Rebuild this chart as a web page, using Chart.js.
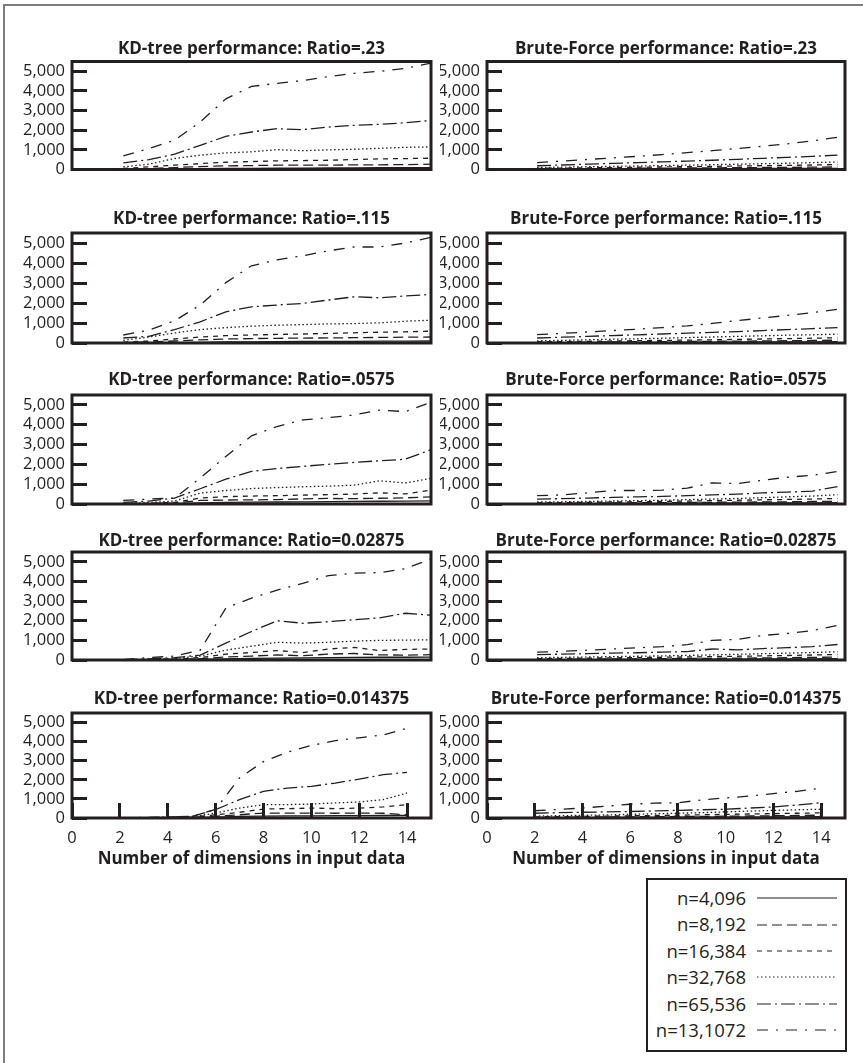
<!DOCTYPE html>
<html>
<head>
<meta charset="utf-8">
<script src="https://cdn.jsdelivr.net/npm/chart.js@4.4.1/dist/chart.umd.min.js"></script>
<style>
  html, body { margin: 0; padding: 0; background: #fff; }
  body { width: 863px; height: 1063px; position: relative; overflow: hidden; font-family: 'Open Sans', sans-serif; color: #231f20; }
  .sheet { position: absolute; left: 3px; top: 4px; right: -10px; bottom: -10px; border-top: 2px solid #7d7d7d; border-left: 2px solid #7d7d7d; }
  canvas { position: absolute; }
  #legend { position: absolute; left: 646px; top: 878px; width: 197px; height: 165px; border: 2px solid #231f20; padding-top: 5px; box-sizing: content-box; }
  .lrow { height: 26.4px; display: flex; align-items: center; }
  .ltxt { width: 98px; text-align: right; font-size: 18.5px; line-height: 1; }
  .lrow svg { margin-left: 11px; }
</style>
</head>
<body>
<div class="sheet"></div>
<div id="legend"></div>
<script>
// Dimensions tested (x values shared by every panel)
const dims = [2, 3, 4, 5, 6, 7, 8, 9, 10, 11, 12, 13, 14];
const yTicks = [0, 1000, 2000, 3000, 4000, 5000];
const xTicks = [0, 2, 4, 6, 8, 10, 12, 14];
const ratios = ['.23', '.115', '.0575', '0.02875', '0.014375'];
const seriesLabels = ['n=4,096', 'n=8,192', 'n=16,384', 'n=32,768', 'n=65,536', 'n=13,1072'];

// One array per panel, rows in the order of seriesLabels
const kd023 = [
  [5, 10, 20, 40, 50, 60, 70, 75, 80, 85, 90, 95, 100],
  [20, 50, 100, 150, 185, 200, 220, 220, 220, 236, 236, 250, 270],
  [50, 135, 220, 300, 370, 405, 440, 456, 470, 507, 540, 557, 575],
  [135, 270, 560, 730, 845, 900, 1010, 960, 1000, 1030, 1080, 1130, 1150],
  [340, 500, 780, 1230, 1690, 1910, 2080, 2030, 2160, 2250, 2300, 2380, 2500],
  [690, 1070, 1490, 2420, 3600, 4230, 4390, 4530, 4730, 4900, 5000, 5150, 5420]
];
const bf023 = [
  [15, 18, 22, 26, 30, 34, 38, 42, 46, 50, 54, 58, 62],
  [30, 38, 46, 54, 62, 70, 78, 86, 94, 102, 110, 120, 130],
  [60, 70, 85, 100, 115, 130, 145, 160, 180, 195, 210, 230, 250],
  [100, 120, 140, 160, 180, 200, 220, 245, 270, 295, 320, 350, 380],
  [190, 230, 270, 310, 350, 390, 430, 470, 520, 570, 620, 670, 730],
  [355, 430, 510, 590, 670, 760, 860, 960, 1070, 1180, 1310, 1460, 1640]
];
const kd0115 = [
  [5, 10, 20, 35, 50, 60, 70, 75, 80, 85, 90, 95, 100],
  [20, 50, 100, 160, 200, 220, 235, 245, 255, 265, 280, 290, 300],
  [40, 100, 200, 300, 370, 400, 430, 450, 480, 510, 540, 560, 590],
  [130, 300, 500, 670, 770, 840, 890, 920, 955, 970, 1010, 1090, 1140],
  [250, 335, 670, 1060, 1560, 1810, 1900, 1980, 2150, 2310, 2260, 2350, 2430],
  [400, 640, 1110, 1900, 3020, 3860, 4160, 4360, 4610, 4800, 4800, 5000, 5280]
];
const bf0115 = [
  [15, 18, 22, 26, 30, 34, 38, 42, 46, 50, 54, 58, 62],
  [30, 38, 46, 54, 62, 70, 78, 86, 94, 102, 112, 125, 140],
  [60, 70, 85, 100, 115, 130, 145, 160, 180, 200, 220, 240, 260],
  [110, 130, 160, 190, 210, 240, 270, 300, 330, 360, 390, 410, 440],
  [250, 290, 330, 370, 410, 450, 490, 530, 570, 620, 670, 720, 770],
  [420, 480, 550, 620, 690, 770, 860, 980, 1120, 1250, 1380, 1520, 1680]
];
const kd00575 = [
  [5, 10, 20, 60, 80, 90, 100, 110, 120, 130, 140, 150, 160],
  [10, 20, 50, 180, 200, 210, 220, 260, 280, 270, 290, 310, 360],
  [20, 40, 80, 300, 370, 400, 420, 450, 470, 500, 560, 510, 700],
  [40, 70, 150, 550, 680, 780, 830, 870, 900, 950, 1170, 1060, 1300],
  [80, 150, 300, 770, 1250, 1650, 1790, 1900, 2000, 2100, 2180, 2260, 2740],
  [185, 250, 300, 1310, 2400, 3440, 3910, 4240, 4360, 4490, 4740, 4660, 5130]
];
const bf00575 = [
  [15, 18, 22, 26, 30, 34, 38, 42, 46, 50, 54, 58, 62],
  [30, 38, 46, 54, 62, 70, 78, 86, 94, 102, 112, 125, 140],
  [60, 70, 85, 100, 115, 130, 150, 170, 190, 210, 230, 250, 280],
  [100, 110, 130, 150, 170, 190, 220, 250, 280, 320, 360, 400, 470],
  [250, 270, 300, 330, 360, 380, 420, 460, 500, 560, 600, 650, 880],
  [420, 460, 560, 680, 680, 700, 800, 1070, 1030, 1200, 1350, 1450, 1640]
];
const kd002875 = [
  [0, 5, 10, 30, 60, 80, 100, 110, 120, 130, 140, 140, 150],
  [0, 10, 30, 70, 150, 200, 260, 220, 300, 330, 260, 250, 270],
  [0, 20, 50, 120, 300, 380, 480, 380, 560, 640, 480, 540, 560],
  [5, 30, 80, 200, 500, 700, 900, 860, 900, 960, 1000, 1010, 1030],
  [10, 60, 120, 250, 860, 1450, 2000, 1870, 1950, 2050, 2150, 2380, 2280],
  [20, 120, 200, 500, 2650, 3150, 3560, 3900, 4300, 4420, 4450, 4650, 5150]
];
const bf002875 = [
  [15, 18, 22, 26, 30, 34, 38, 42, 46, 50, 56, 62, 70],
  [30, 38, 46, 54, 62, 70, 78, 86, 94, 105, 118, 132, 150],
  [70, 80, 95, 110, 125, 140, 155, 170, 190, 210, 230, 255, 280],
  [120, 135, 150, 170, 190, 210, 235, 260, 290, 320, 350, 380, 420],
  [270, 300, 320, 350, 370, 400, 430, 560, 520, 580, 630, 680, 790],
  [400, 440, 500, 560, 620, 680, 780, 1000, 1050, 1250, 1350, 1500, 1760]
];
const kd0014375 = [
  [0, 0, 10, 20, 50, 80, 100, 110, 110, 120, 120, 130, 140],
  [0, 5, 20, 40, 90, 170, 260, 260, 260, 250, 260, 250, 170],
  [0, 10, 30, 50, 170, 300, 470, 490, 520, 490, 520, 580, 700],
  [0, 10, 30, 60, 260, 520, 700, 700, 730, 790, 840, 960, 1310],
  [0, 20, 50, 80, 440, 960, 1400, 1570, 1660, 1830, 2040, 2270, 2390],
  [0, 30, 60, 80, 450, 2100, 2950, 3450, 3800, 4050, 4200, 4350, 4700]
];
const bf0014375 = [
  [15, 18, 22, 26, 30, 34, 38, 42, 46, 50, 56, 62, 70],
  [30, 38, 46, 54, 62, 70, 78, 86, 94, 105, 118, 132, 150],
  [60, 70, 85, 100, 115, 130, 150, 170, 190, 210, 230, 250, 270],
  [100, 120, 140, 160, 190, 220, 250, 280, 320, 360, 400, 430, 460],
  [250, 280, 300, 320, 340, 370, 400, 430, 460, 520, 580, 680, 800],
  [380, 450, 520, 620, 720, 780, 800, 950, 1050, 1150, 1280, 1400, 1560]
];

const kdPanels = [kd023, kd0115, kd00575, kd002875, kd0014375];
const bfPanels = [bf023, bf0115, bf00575, bf002875, bf0014375];

// Look
const ink = '#231f20';
const fontFamily = "'Open Sans', sans-serif";
const dashes = [[], [10, 5], [5, 5], [1.5, 2.5], [14, 4, 2, 4], [11, 8, 2, 8]];

// Row geometry: title centre, plot top, plot bottom (page px)
const rowGeom = [
  { title: 49, top: 61.5, bottom: 169.5 },
  { title: 219, top: 233, bottom: 343 },
  { title: 380, top: 395, bottom: 504 },
  { title: 541, top: 552, bottom: 660 },
  { title: 699, top: 713, bottom: 818 }
];
const colGeom = [
  { left: 10, width: 430, axisW: 62, padRight: 9, xMax: 14 },
  { left: 440, width: 420, axisW: 47, padRight: 15, xMax: 14.3 }
];
const pageBottom = 871;
const belowPlot = 14;

// Thick box round the plot area
const framePlugin = {
  id: 'frame',
  afterDraw(chart) {
    const { ctx, chartArea: a } = chart;
    ctx.save();
    ctx.strokeStyle = ink;
    ctx.lineWidth = 3;
    ctx.strokeRect(a.left, a.top, a.right - a.left, a.bottom - a.top);
    ctx.restore();
  }
};

function makePanel(row, col, title, series) {
  const g = rowGeom[row];
  const c = colGeom[col];
  const last = row === rowGeom.length - 1;
  const top = g.title - 18;
  const height = Math.round((last ? pageBottom : g.bottom + belowPlot) - top);

  const canvas = document.createElement('canvas');
  canvas.width = c.width;
  canvas.height = height;
  canvas.style.left = c.left + 'px';
  canvas.style.top = top + 'px';
  document.body.appendChild(canvas);

  const titleLine = 17 * 1.2;
  new Chart(canvas, {
    type: 'line',
    data: {
      datasets: series.map((vals, k) => ({
        label: seriesLabels[k],
        data: dims.map((d, i) => ({ x: d, y: vals[i] })),
        borderColor: ink,
        borderWidth: 1.3,
        borderDash: dashes[k],
        pointRadius: 0,
        tension: 0,
        fill: false
      }))
    },
    options: {
      responsive: false,
      animation: false,
      devicePixelRatio: 1,
      layout: { padding: { left: 0, right: c.padRight, top: 0, bottom: last ? 0 : height - (g.bottom - top) } },
      plugins: {
        legend: { display: false },
        tooltip: { enabled: false },
        title: {
          display: true,
          fullSize: false,
          text: title,
          color: ink,
          font: { family: fontFamily, size: 17, weight: 'bold', lineHeight: 1.2 },
          padding: { top: 18 - titleLine / 2, bottom: g.top - g.title - titleLine / 2 }
        }
      },
      scales: {
        x: {
          type: 'linear',
          min: 0,
          max: last ? 15 : c.xMax,
          display: last,
          afterBuildTicks: (s) => { s.ticks = xTicks.map((v) => ({ value: v })); },
          afterFit: (s) => {
            if (last) s.height = pageBottom - g.bottom;
            s.paddingLeft = 0;
            s.paddingRight = 0;
          },
          border: { display: false },
          grid: { drawOnChartArea: false, drawTicks: true, tickLength: -15, tickWidth: 3, tickColor: ink },
          ticks: { autoSkip: false, maxRotation: 0, padding: 25, color: ink, font: { family: fontFamily, size: 16.5 } },
          title: {
            display: true,
            text: 'Number of dimensions in input data',
            color: ink,
            font: { family: fontFamily, size: 17, weight: 'bold', lineHeight: 1.2 },
            padding: { top: 0, bottom: 2 }
          }
        },
        y: {
          min: 0,
          max: 5500,
          afterBuildTicks: (s) => { s.ticks = yTicks.map((v) => ({ value: v })); },
          afterFit: (s) => {
            s.width = c.axisW;
            // inward ticks: drop the label padding Chart.js reserves above/below
            s.paddingTop = 0;
            s.paddingBottom = 0;
          },
          border: { display: false },
          grid: { drawOnChartArea: false, drawTicks: true, tickLength: -15, tickWidth: 3, tickColor: ink },
          ticks: {
            autoSkip: false,
            padding: 22,
            color: ink,
            font: { family: fontFamily, size: 16.5 },
            callback: (v) => v.toLocaleString('en-US')
          }
        }
      }
    },
    plugins: [framePlugin]
  });
}

ratios.forEach((r, i) => {
  makePanel(i, 0, 'KD-tree performance: Ratio=' + r, kdPanels[i]);
  makePanel(i, 1, 'Brute-Force performance: Ratio=' + r, bfPanels[i]);
});

// Legend box
const legendEl = document.getElementById('legend');
seriesLabels.forEach((lab, k) => {
  const rowEl = document.createElement('div');
  rowEl.className = 'lrow';
  rowEl.innerHTML = '<span class="ltxt">' + lab + '</span>' +
    '<svg width="80" height="4"><line x1="0" y1="2" x2="80" y2="2" stroke="' + ink +
    '" stroke-width="1.2" stroke-dasharray="' + (dashes[k].length ? dashes[k].join(' ') : 'none') + '"/></svg>';
  legendEl.appendChild(rowEl);
});
</script>
</body>
</html>
